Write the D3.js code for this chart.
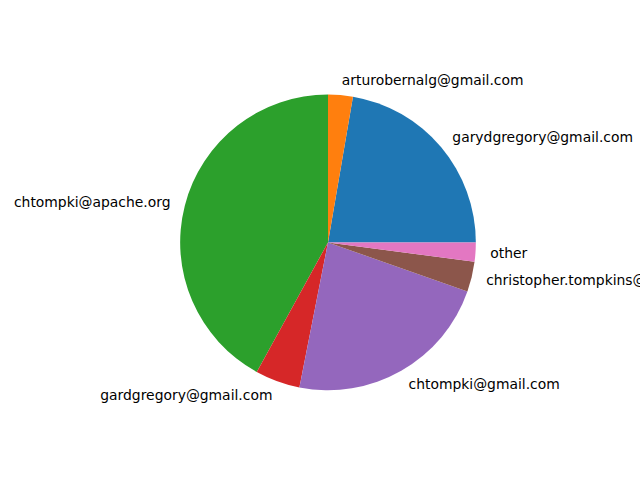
<!DOCTYPE html>
<html>
<head>
<meta charset="utf-8">
<script src="https://cdn.jsdelivr.net/npm/d3@7"></script>
<style>
  body { margin: 0; background: #ffffff; }
</style>
</head>
<body>
<div id="chart"></div>
<script>
// Share of commits per author email (percent)
const authors = [
  "garydgregory@gmail.com",
  "arturobernalg@gmail.com",
  "chtompki@apache.org",
  "gardgregory@gmail.com",
  "chtompki@gmail.com",
  "christopher.tompkins@gmail.com",
  "other"
];
const shares = [22.3, 2.7, 42.0, 4.9, 22.7, 3.3, 2.1];
const colors = ["#1f77b4", "#ff7f0e", "#2ca02c", "#d62728", "#9467bd", "#8c564b", "#e377c2"];

const width = 640, height = 480;
// figure layout like a default matplotlib axes
const axLeft = 0.125 * width, axRight = 0.9 * width;
const axTop = (1 - 0.88) * height, axBottom = (1 - 0.11) * height;
const unit = Math.min(axRight - axLeft, axBottom - axTop) / 2.5;
const cx = (axLeft + axRight) / 2;
const cy = (axTop + axBottom) / 2;
const radius = unit;

const svg = d3.select("#chart").append("svg")
  .attr("width", width)
  .attr("height", height)
  .style("font-family", "'DejaVu Sans', sans-serif");

const data = authors.map((name, i) => ({ name: name, value: shares[i], color: colors[i] }));

// start at 3 o'clock and go counter-clockwise
const pie = d3.pie()
  .sort(null)
  .value(d => d.value)
  .startAngle(Math.PI / 2)
  .endAngle(Math.PI / 2 - 2 * Math.PI);

const arc = d3.arc().innerRadius(0).outerRadius(radius);
const arcs = pie(data);

const g = svg.append("g").attr("transform", `translate(${cx},${cy})`);

g.selectAll("path.wedge")
  .data(arcs)
  .join("path")
  .attr("class", "wedge")
  .attr("d", arc)
  .attr("fill", d => d.data.color);

g.selectAll("text.label")
  .data(arcs)
  .join("text")
  .attr("class", "label")
  .each(function (d) {
    const a = (d.startAngle + d.endAngle) / 2;
    const x = Math.sin(a) * radius * 1.1;
    const y = -Math.cos(a) * radius * 1.1;
    d3.select(this)
      .attr("x", x)
      .attr("y", y)
      .attr("dy", "0.35em")
      .attr("text-anchor", x > 0 ? "start" : "end");
  })
  .style("font-size", "13.9px")
  .attr("fill", "#000")
  .text(d => d.data.name);
</script>
</body>
</html>
